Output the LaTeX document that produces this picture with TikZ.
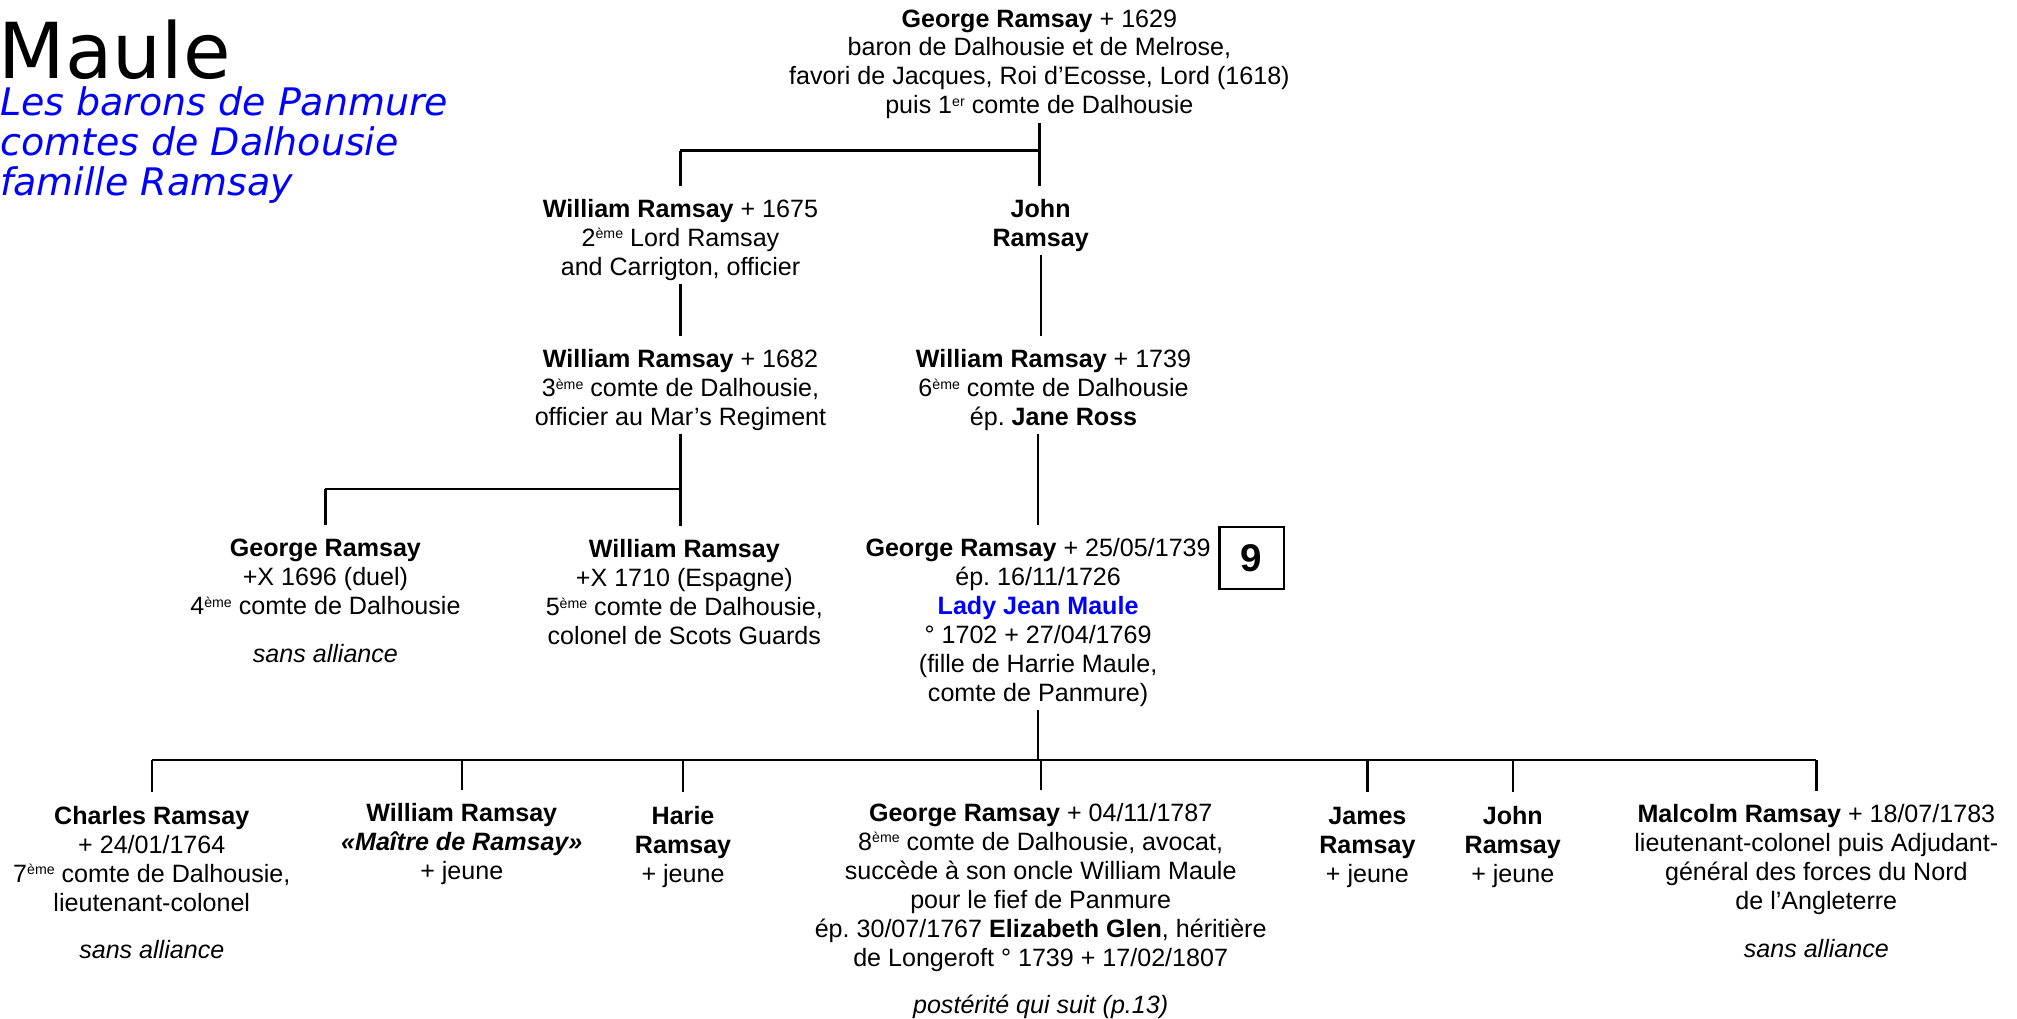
\documentclass[tikz,border=0pt]{standalone}
\usepackage{fontspec}
\setmainfont{Liberation Sans}
\newfontfamily\titlefont{DejaVu Sans}
\definecolor{titleblue}{RGB}{0,0,255}
\frenchspacing
% small raised ordinal suffix (2ème, 1er)
\newcommand\supr[1]{\raisebox{6pt}{\fontsize{11}{11}\selectfont #1}}
% line strut: fixes first-line height and last-line depth
\newcommand\st{\rule[-6.75pt]{0pt}{22.5pt}}
\begin{document}
\begin{tikzpicture}[x=1pt,y=-1pt,
  person/.style={align=center, anchor=north, inner sep=0pt, outer sep=0pt,
    font=\fontsize{19.5}{22.5}\selectfont},
  link/.style={line width=1.8pt},
  kid/.style={shorten >=9pt},
  heading/.style={anchor=base west, inner sep=0pt}]
\useasboundingbox (0,0) rectangle (1568,792);

% heading
\node[heading, font=\titlefont\fontsize{60}{60}\selectfont] (title) at (-1,61) {Maule};
\node[heading, font=\titlefont\itshape\fontsize{29.5}{31}\selectfont, text=titleblue] (sub1) at (0,90) {Les barons de Panmure};
\node[heading, font=\titlefont\itshape\fontsize{29.5}{31}\selectfont, text=titleblue] (sub2) at (0,121) {comtes de Dalhousie};
\node[heading, font=\titlefont\itshape\fontsize{29.5}{31}\selectfont, text=titleblue] (sub3) at (0,152) {famille Ramsay};

% generation 1
\node[person] (n0) at (808,5.25) {\st\textbf{George Ramsay} + 1629\\baron de Dalhousie et de Melrose,\\favori de Jacques, Roi d’Ecosse, Lord (1618)\\puis 1\supr{er} comte de Dalhousie\st};

% generation 2
\node[person] (n1) at (529,153.25) {\st\textbf{William Ramsay} + 1675\\2\supr{ème} Lord Ramsay\\and Carrigton, officier\st};
\node[person] (n2) at (809,153.25) {\st\textbf{John}\\\textbf{Ramsay}\st};

% generation 3
\node[person] (n3) at (529,270.25) {\st\textbf{William Ramsay} + 1682\\3\supr{ème} comte de Dalhousie,\\officier au Mar’s Regiment\st};
\node[person] (n4) at (819,270.25) {\st\textbf{William Ramsay} + 1739\\6\supr{ème} comte de Dalhousie\\ép. \textbf{Jane Ross}\st};

% generation 4
\node[person] (n5) at (253,417.25) {\st\textbf{George Ramsay}\\+X 1696 (duel)\\4\supr{ème} comte de Dalhousie\\[14.5pt]\textit{sans alliance}\st};
\node[person] (n6) at (532,418) {\st\textbf{William Ramsay}\\+X 1710 (Espagne)\\5\supr{ème} comte de Dalhousie,\\colonel de Scots Guards\st};
\node[person] (n7) at (807,417.25) {\st\textbf{George Ramsay} + 25/05/1739\\ép. 16/11/1726\\\textcolor{titleblue}{\textbf{Lady Jean Maule}}\\° 1702 + 27/04/1769\\(fille de Harrie Maule,\\comte de Panmure)\st};
\node[draw, line width=1.6pt, minimum width=50pt, minimum height=48pt, inner sep=0pt,
  font=\bfseries\fontsize{30}{30}\selectfont] (page) at (973,434) {9};

% generation 5
\node[person] (c1) at (118,625) {\st\textbf{Charles Ramsay}\\+ 24/01/1764\\7\supr{ème} comte de Dalhousie,\\lieutenant-colonel\\[14.5pt]\textit{sans alliance}\st};
\node[person] (c2) at (359,623) {\st\textbf{William Ramsay}\\\textbf{\textit{«Maître de Ramsay»}}\\+ jeune\st};
\node[person] (c3) at (531,625) {\st\textbf{Harie}\\\textbf{Ramsay}\\+ jeune\st};
\node[person] (c4) at (809,623) {\st\textbf{George Ramsay} + 04/11/1787\\8\supr{ème} comte de Dalhousie, avocat,\\succède à son oncle William Maule\\pour le fief de Panmure\\ép. 30/07/1767 \textbf{Elizabeth Glen}, héritière\\de Longeroft ° 1739 + 17/02/1807\\[14.5pt]\textit{postérité qui suit (p.13)}\st};
\node[person] (c5) at (1063,625) {\st\textbf{James}\\\textbf{Ramsay}\\+ jeune\st};
\node[person] (c6) at (1176,625) {\st\textbf{John}\\\textbf{Ramsay}\\+ jeune\st};
\node[person] (c7) at (1412,624) {\st\textbf{Malcolm Ramsay} + 18/07/1783\\lieutenant-colonel puis Adjudant-\\général des forces du Nord\\de l’Angleterre\\[14.5pt]\textit{sans alliance}\st};

% bus lines
\coordinate (bus1) at (808,117);
\coordinate (bus2) at (529,380);
\coordinate (bus3) at (807,591);

% connectors
\draw[link,kid] (n0.south) -- (n0.south |- n2.north);
\draw[link] (n0.south |- bus1) -- (n1.north |- bus1);
\draw[link,kid] (n1.north |- bus1) -- (n1.north);

\draw[link,kid] (n1.south) -- (n3.north);
\draw[link,kid] (n2.south) -- (n2.south |- n4.north);

\draw[link,kid] (n3.south) -- (n3.south |- n6.north);
\draw[link] (n3.south |- bus2) -- (n5.north |- bus2);
\draw[link,kid] (n5.north |- bus2) -- (n5.north);

\draw[link,kid] (n7.north |- n4.south) -- (n7.north);

\draw[link] (n7.south) -- (n7.south |- bus3);
\draw[link] (c1.north |- bus3) -- (c7.north |- bus3);
\foreach \c in {c1,c2,c3,c4,c5,c6,c7}
  \draw[link,kid] (\c.north |- bus3) -- (\c.north);
\end{tikzpicture}
\end{document}
